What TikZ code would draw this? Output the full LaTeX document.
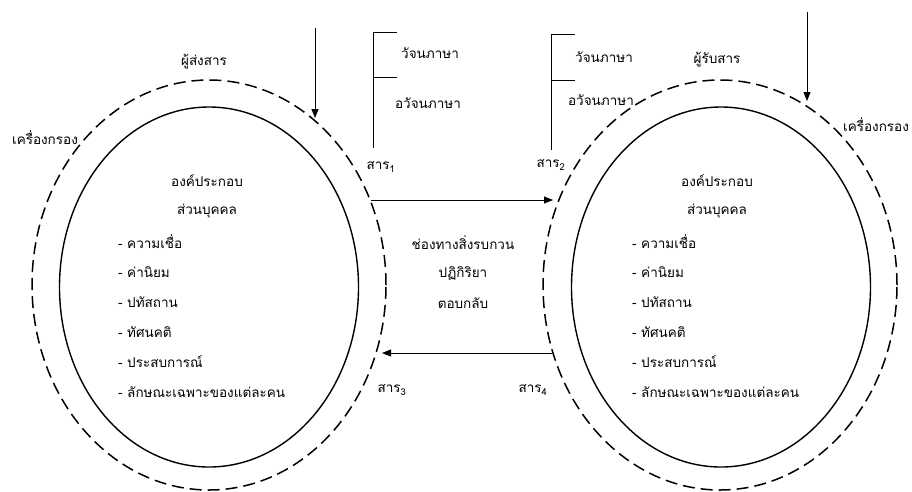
\documentclass[tikz,border=0pt]{standalone}
\usepackage{fontspec}
\setmainfont[Script=Thai]{Loma}
\usepackage{tikz}
\usetikzlibrary{positioning,shapes.geometric,arrows.meta}

\begin{document}
\begin{tikzpicture}[x=1pt,y=-1pt,
        every node/.style = { font = \fontsize{13.5}{16}\selectfont,
          inner sep = 0pt },
        Filter/.style = { ellipse, draw, line width = 1.5pt,
          dash pattern = on 12pt off 6pt, outer sep = 0pt,
          minimum width = 354pt, minimum height = 410pt },
        Person/.style = { ellipse, draw, line width = 1.4pt,
          outer sep = 0pt, minimum width = 299pt, minimum height = 360pt },
        Item/.style = { anchor = west },
        Flow/.style = { -{Triangle[length=9pt,width=7pt]}, line width = .8pt }
      ]
      \useasboundingbox (0,0) rectangle (912,491);
      % sender and receiver
      \node[Filter] (sendOut) at (209,285) {};
      \node[Person] (sendIn) at (209,287) {};
      \node[Filter] (recvOut) at (720,285) {};
      \node[Person] (recvIn) at (721,287) {};
      \node (sendName) at (204,62) {ผู้ส่งสาร};
      \node (recvName) at (717,60) {ผู้รับสาร};
      \node (filterL) at (45,138) {เครื่องกรอง};
      \node (filterR) at (876,125) {เครื่องกรอง};
      % personal factors, sender
      \node (headL) at (207,181) {องค์ประกอบ};
      \node (subL) [below = 17pt of headL] {ส่วนบุคคล};
      \node[Item] (a1) at (118,242) {- ความเชื่อ};
      \node[Item] (a2) [below = 30pt of a1.west, anchor = west] {- ค่านิยม};
      \node[Item] (a3) [below = 30pt of a2.west, anchor = west] {- ปทัสถาน};
      \node[Item] (a4) [below = 30pt of a3.west, anchor = west] {- ทัศนคติ};
      \node[Item] (a5) [below = 30pt of a4.west, anchor = west] {- ประสบการณ์};
      \node[Item] (a6) [below = 30pt of a5.west, anchor = west] {- ลักษณะเฉพาะของแต่ละคน};
      % personal factors, receiver
      \node (headR) at (717,181) {องค์ประกอบ};
      \node (subR) [below = 17pt of headR] {ส่วนบุคคล};
      \node[Item] (b1) at (632,242) {- ความเชื่อ};
      \node[Item] (b2) [below = 30pt of b1.west, anchor = west] {- ค่านิยม};
      \node[Item] (b3) [below = 30pt of b2.west, anchor = west] {- ปทัสถาน};
      \node[Item] (b4) [below = 30pt of b3.west, anchor = west] {- ทัศนคติ};
      \node[Item] (b5) [below = 30pt of b4.west, anchor = west] {- ประสบการณ์};
      \node[Item] (b6) [below = 30pt of b5.west, anchor = west] {- ลักษณะเฉพาะของแต่ละคน};
      % channel
      \node (chan) at (463,243) {ช่องทางสิ่งรบกวน};
      \node (react) at (463,273) {ปฏิกิริยา};
      \node (back) at (463,303) {ตอบกลับ};
      % messages
      \node (msg1) at (381,167) {สาร\textsubscript{1}};
      \node (msg2) at (551,165) {สาร\textsubscript{2}};
      \node (msg3) at (392,390) {สาร\textsubscript{3}};
      \node (msg4) at (533,390) {สาร\textsubscript{4}};
      \node (verbL) at (430,53) {วัจนภาษา};
      \node (nonverbL) at (428,103) {อวัจนภาษา};
      \node (verbR) at (604,57) {วัจนภาษา};
      \node (nonverbR) at (601,100) {อวัจนภาษา};
      % brackets
      \coordinate (brL) at (373,148);
      \coordinate (brR) at (551,150);
      \draw[line width = .7pt] (397,32) -| (brL);
      \draw[line width = .7pt] (373,77) -- (397,77);
      \draw[line width = .7pt] (575,34) -| (brR);
      \draw[line width = .7pt] (551,80) -- (575,80);
      % arrows
      \coordinate (inL) at (315,28);
      \coordinate (hitL) at (315,118);
      \coordinate (inR) at (807,12);
      \coordinate (hitR) at (807,101);
      \coordinate (m1) at (371,200);
      \coordinate (m2) at (553,200);
      \coordinate (m4) at (552,353);
      \coordinate (m3) at (382,353);
      \draw[Flow] (inL) -- (hitL);
      \draw[Flow] (inR) -- (hitR);
      \draw[Flow] (m1) -- (m2);
      \draw[Flow] (m4) -- (m3);
    \end{tikzpicture}
\end{document}
